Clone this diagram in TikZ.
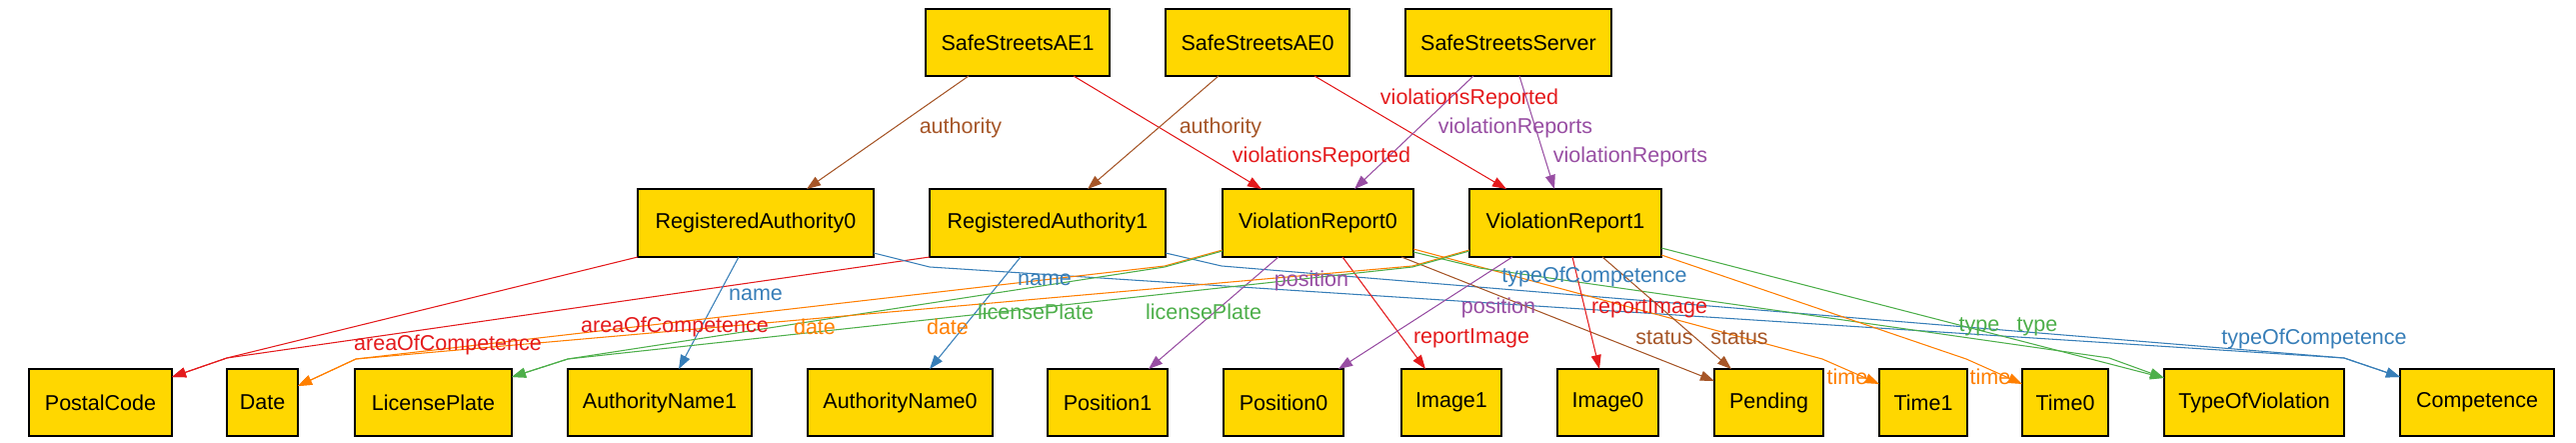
\documentclass[tikz,border=0pt]{standalone}
\usepackage{fontspec}
\setmainfont{Liberation Sans}
\usetikzlibrary{arrows.meta}
\definecolor{cred}{HTML}{E41A1C}
\definecolor{cblue}{HTML}{377EB8}
\definecolor{cgreen}{HTML}{4DAF4A}
\definecolor{cpurple}{HTML}{984EA3}
\definecolor{corange}{HTML}{FF7F00}
\definecolor{cbrown}{HTML}{A65628}
\definecolor{gold}{HTML}{FFD700}
\begin{document}
\begin{tikzpicture}[x=1pt,y=-1pt,
  box/.style={draw=black, line width=1.3pt, fill=gold, inner sep=0pt, outer sep=0pt,
    font=\fontsize{21.5}{24}\selectfont},
  topbox/.style={box, minimum height=67pt},
  edge/.style={line width=1.05pt, -{Triangle[length=14pt,width=10pt]}},
  lbl/.style={font=\fontsize{21.5}{24}\selectfont, inner sep=0pt},
]
\useasboundingbox[fill=white] (0,0) rectangle (2577,443);

% top row
\node[topbox, minimum width=184pt] (AE1) at (1018,42.5) {SafeStreetsAE1};
\node[topbox, minimum width=184pt] (AE0) at (1258,42.5) {SafeStreetsAE0};
\node[topbox, minimum width=206pt] (SRV) at (1509,42.5) {SafeStreetsServer};
% middle row
\node[topbox, minimum height=68pt, minimum width=236pt] (RA0) at (756,223) {RegisteredAuthority0};
\node[topbox, minimum height=68pt, minimum width=236pt] (RA1) at (1048,223) {RegisteredAuthority1};
\node[topbox, minimum height=68pt, minimum width=191pt] (VR0) at (1318.5,223) {ViolationReport0};
\node[topbox, minimum height=68pt, minimum width=192pt] (VR1) at (1566,223) {ViolationReport1};
% bottom row
\node[topbox, minimum width=143pt] (PC) at (100.5,402.5) {PostalCode};
\node[topbox, minimum width=71pt] (DT) at (262.5,402.5) {Date};
\node[topbox, minimum width=157pt] (LP) at (433.5,402.5) {LicensePlate};
\node[topbox, minimum width=184pt] (AN1) at (660,402.5) {AuthorityName1};
\node[topbox, minimum width=185pt] (AN0) at (900.5,402.5) {AuthorityName0};
\node[topbox, minimum width=120pt] (P1) at (1108,402.5) {Position1};
\node[topbox, minimum width=120pt] (P0) at (1284,402.5) {Position0};
\node[topbox, minimum width=100pt] (I1) at (1452,402.5) {Image1};
\node[topbox, minimum width=101pt] (I0) at (1608.5,402.5) {Image0};
\node[topbox, minimum width=109pt] (PE) at (1769.5,402.5) {Pending};
\node[topbox, minimum width=88pt] (T1) at (1924,402.5) {Time1};
\node[topbox, minimum width=86pt] (T0) at (2066,402.5) {Time0};
\node[topbox, minimum width=180pt] (TV) at (2255,402.5) {TypeOfViolation};
\node[topbox, minimum width=154pt] (CO) at (2478,402.5) {Competence};

% top edges
\draw[edge, cbrown] ([xshift=43pt]AE1.south west) -- ([xshift=169pt]RA0.north west);
\draw[edge, cred] ([xshift=148pt]AE1.south west) -- ([xshift=39pt]VR0.north west);
\draw[edge, cbrown] ([xshift=53pt]AE0.south west) -- ([xshift=158pt]RA1.north west);
\draw[edge, cred] ([xshift=149pt]AE0.south west) -- ([xshift=37pt]VR1.north west);
\draw[edge, cpurple] ([xshift=68pt]SRV.south west) -- ([xshift=132pt]VR0.north west);
\draw[edge, cpurple] ([xshift=114pt]SRV.south west) -- ([xshift=85pt]VR1.north west);

% RA edges
\draw[edge, cred] (RA0.south west) -- (227,358) -- ([yshift=-8pt]PC.north east);
\draw[edge, cred] (RA1.south west) -- (227,358) -- ([yshift=-8pt]PC.north east);
\draw[edge, cblue] ([xshift=101pt]RA0.south west) -- ([xshift=111pt]AN1.north west);
\draw[edge, cblue] ([xshift=91pt]RA1.south west) -- ([xshift=122pt]AN0.north west);
\draw[edge, cblue] ([yshift=4pt]RA0.south east) -- (930,267) -- (2345,358) -- ([yshift=-8pt]CO.north west);
\draw[edge, cblue] ([yshift=4pt]RA1.south east) -- (1222,266) -- (2345,358) -- ([yshift=-8pt]CO.north west);

% VR0 edges
\draw[edge, corange] ([yshift=7pt]VR0.south west) -- (1165,266) -- (356,359) -- ([yshift=-17pt]DT.north east);
\draw[edge, cgreen] ([yshift=6pt]VR0.south west) -- (1165,267) -- (568,359) -- ([yshift=-8pt]LP.north east);
\draw[edge, cpurple] ([xshift=56pt]VR0.south west) -- ([xshift=101pt]P1.north west);
\draw[edge, cred] ([xshift=120pt]VR0.south west) -- ([xshift=24pt]I1.north west);
\draw[edge, cbrown] ([xshift=179pt]VR0.south west) -- ([yshift=-12pt]PE.north west);
\draw[edge, corange] ([yshift=8pt]VR0.south east) -- (1823,359) -- ([yshift=-15pt]T1.north west);
\draw[edge, cgreen] ([yshift=5pt]VR0.south east) -- (1480,268) -- (2110,358) -- ([yshift=-9pt]TV.north west);

% VR1 edges
\draw[edge, corange] ([yshift=7pt]VR1.south west) -- (1413,266) -- (356,359) -- ([yshift=-17pt]DT.north east);
\draw[edge, cgreen] ([yshift=6pt]VR1.south west) -- (1413,267) -- (568,359) -- ([yshift=-8pt]LP.north east);
\draw[edge, cpurple] ([xshift=43pt]VR1.south west) -- ([xshift=115pt]P0.north west);
\draw[edge, cred] ([xshift=103pt]VR1.south west) -- ([xshift=42pt]I0.north west);
\draw[edge, cbrown] ([xshift=133pt]VR1.south west) -- ([xshift=17pt]PE.north west);
\draw[edge, corange] ([yshift=2pt]VR1.south east) -- (1967,359) -- ([yshift=-15pt]T0.north west);
\draw[edge, cgreen] ([yshift=9pt]VR1.south east) -- ([yshift=-9pt]TV.north west);

% labels
\node[lbl, text=cbrown] (la1) at (961,128) {authority};
\node[lbl, text=cred] (la2) at (1322,157) {violationsReported};
\node[lbl, text=cbrown] (la3) at (1221,128) {authority};
\node[lbl, text=cred] (la4) at (1470,99) {violationsReported};
\node[lbl, text=cpurple] (la5) at (1516,128) {violationReports};
\node[lbl, text=cpurple] (la6) at (1631,157) {violationReports};
\node[lbl, text=cred] (lb1) at (448,345) {areaOfCompetence};
\node[lbl, text=cred] (lb2) at (675,327) {areaOfCompetence};
\node[lbl, text=cblue] (lb3) at (756,295) {name};
\node[lbl, text=cblue] (lb4) at (1045,280) {name};
\node[lbl, text=cblue] (lb5) at (1595,277) {typeOfCompetence};
\node[lbl, text=cblue] (lb6) at (2315,339) {typeOfCompetence};
\node[lbl, text=corange] (lc1) at (815,327) {date};
\node[lbl, text=corange] (lc2) at (948,327) {date};
\node[lbl, text=cgreen] (lc3) at (1036,312) {licensePlate};
\node[lbl, text=cgreen] (lc4) at (1204,312) {licensePlate};
\node[lbl, text=cpurple] (lc5) at (1312,281) {position};
\node[lbl, text=cpurple] (lc6) at (1499,308) {position};
\node[lbl, text=cred] (lc7) at (1472,338) {reportImage};
\node[lbl, text=cred] (lc8) at (1650,308) {reportImage};
\node[lbl, text=cbrown] (lc9) at (1665,338) {status};
\node[lbl, text=cbrown] (lc10) at (1740,338) {status};
\node[lbl, text=corange] (lc11) at (1848,377) {time};
\node[lbl, text=corange] (lc12) at (1991,377) {time};
\node[lbl, text=cgreen] (lc13) at (1980,327) {type};
\node[lbl, text=cgreen] (lc14) at (2038,327) {type};
\end{tikzpicture}
\end{document}
